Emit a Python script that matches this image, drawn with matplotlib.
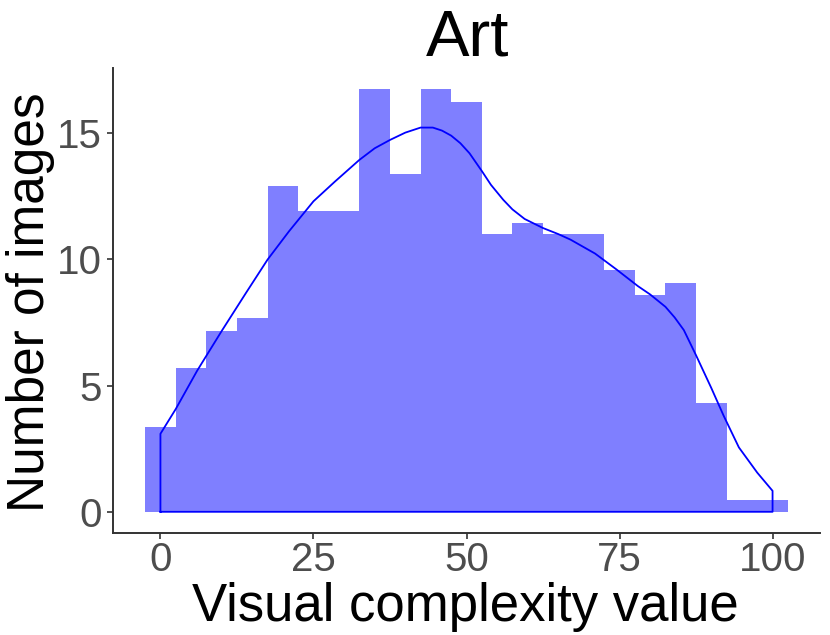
import numpy as np
import matplotlib
matplotlib.use("Agg")
import matplotlib.pyplot as plt

plt.rcParams["font.family"] = ["Liberation Sans", "DejaVu Sans"]

# histogram (binwidth 5, centred on multiples of 5)
bin_centers = [0, 5, 10, 15, 20, 25, 30, 35, 40, 45, 50,
               55, 60, 65, 70, 75, 80, 85, 90, 95, 100]
bin_heights = [3.36, 5.71, 7.17, 7.66, 12.92, 11.93, 11.93, 16.74, 13.40, 16.74, 16.25,
               10.99, 11.45, 10.99, 10.99, 9.58, 8.58, 9.05, 4.30, 0.46, 0.46]

# density curve
dens_x = [0, 2.5, 6, 10, 14, 17.5, 21, 25, 28.5, 32.5, 35, 37.5, 40, 42.5, 44.5,
          46, 47.5, 49, 50.5, 52.5, 54, 56, 57.5, 59.5, 62.5, 65, 67, 71, 74.5, 78,
          80, 82.5, 84, 85.5, 87.5, 90, 92, 94.5, 97.5, 100]
dens_y = [3.09, 4.07, 5.59, 7.16, 8.68, 9.99, 11.11, 12.3, 13.08, 13.94, 14.4, 14.73,
          15.02, 15.22, 15.22, 15.1, 14.9, 14.6, 14.2, 13.5, 12.95, 12.36, 11.98,
          11.6, 11.24, 11.0, 10.78, 10.23, 9.6, 8.94, 8.61, 8.12, 7.7, 7.2, 6.2, 4.9,
          3.81, 2.55, 1.55, 0.83]

fig = plt.figure(figsize=(8.3, 6.35), dpi=100)
ax = fig.add_axes([113 / 830, 1 - 533 / 635, 707 / 830, 465 / 635])

ax.bar(bin_centers, bin_heights, width=5, color="blue", alpha=0.5, linewidth=0)

# density outline (closed down to the baseline like geom_density)
px = [dens_x[0]] + dens_x + [dens_x[-1], dens_x[0]]
py = [0] + dens_y + [0, 0]
ax.plot(px, py, color="blue", lw=1.3, solid_joinstyle="round")

ax.set_xlim(-7.75, 107.75)
ax.set_ylim(-0.84, 17.58)
ax.set_xticks([0, 25, 50, 75, 100])
ax.set_yticks([0, 5, 10, 15])
ax.spines[["top", "right"]].set_visible(False)
for s in ["left", "bottom"]:
    ax.spines[s].set_color("#333333")
    ax.spines[s].set_linewidth(1.4)
ax.tick_params(length=4, width=1.2, color="#333333", labelcolor="#4D4D4D",
               labelsize=29)
ax.tick_params(axis="x", pad=2)
ax.tick_params(axis="y", pad=4)

fig.text(468 / 830, 1 - 55 / 635, "Art", fontsize=47, ha="center", va="baseline")
fig.text(465 / 830, 1 - 621 / 635, "Visual complexity value", fontsize=38,
         ha="center", va="baseline")
fig.text(31 / 830, 1 - 302 / 635, "Number of images", fontsize=37,
         ha="center", va="center", rotation=90)

fig.savefig("out.png", dpi=100)
